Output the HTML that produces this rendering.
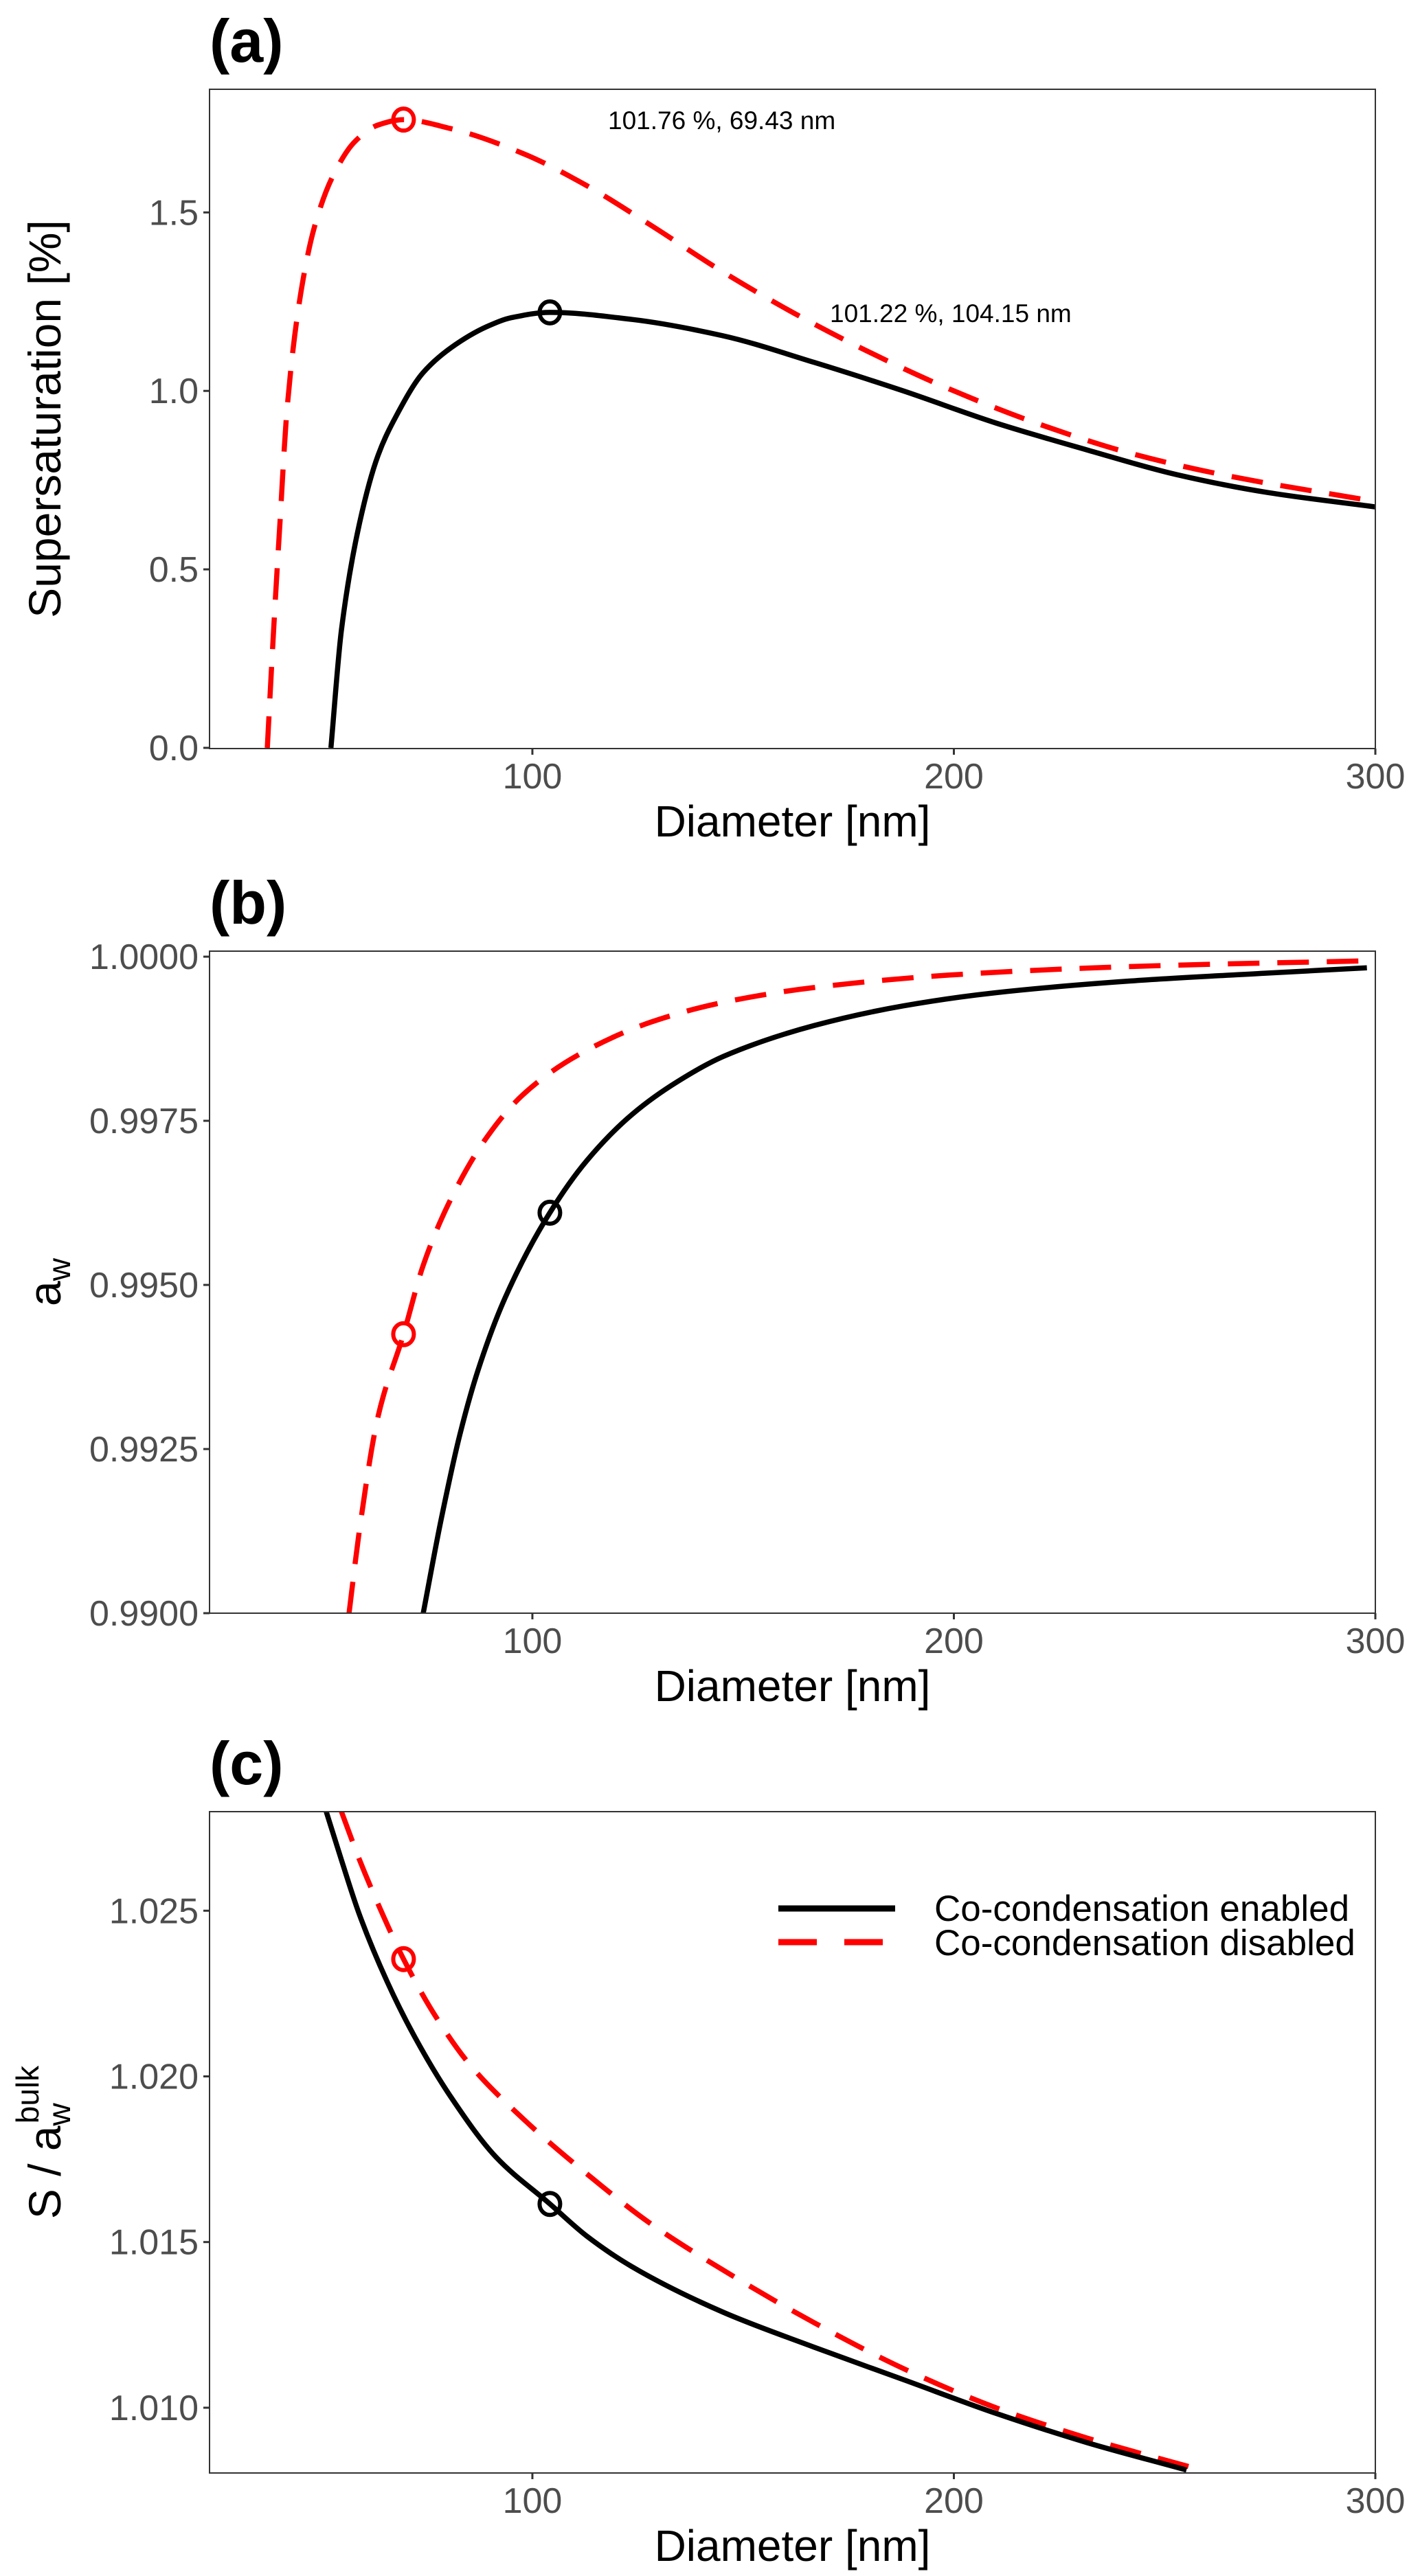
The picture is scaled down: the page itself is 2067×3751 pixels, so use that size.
<!DOCTYPE html>
<html><head><meta charset="utf-8"><style>
html,body{margin:0;padding:0;background:#fff;}
svg{display:block;}
text{font-family:"Liberation Sans",sans-serif;}
</style></head>
<body>
<svg id="fig" width="2067" height="3751" viewBox="0 0 2067 3751" xmlns="http://www.w3.org/2000/svg">
<rect width="2067" height="3751" fill="#fff"/>
</svg>
<script>
// ---- Data ----
const xTicks = [100, 200, 300];
// Panel (a) supersaturation
const aEnabledD = [52.2,54.7,59,63.4,67.7,74,80.6,89.2,95,104.15,123.7,145,166.8,188,210,231.5,253,274.6,300];
const aEnabledV = [0,0.33,0.63,0.82,0.93,1.05,1.12,1.18,1.205,1.22,1.2,1.155,1.08,1.0,0.91,0.835,0.765,0.715,0.675];
const aDisabledD = [37.1,38.6,40.1,41.8,45,48.3,52.6,58,63.4,69.43,80.6,97.8,112.9,128,145,162.5,179.7,199,220.7,242,263.8,300];
const aDisabledV = [0,0.33,0.63,0.95,1.27,1.46,1.60,1.70,1.745,1.76,1.735,1.665,1.575,1.465,1.335,1.215,1.11,1.005,0.905,0.825,0.765,0.69];
const aTicks = [0.0, 0.5, 1.0, 1.5];
const aTickLabels = ["0.0","0.5","1.0","1.5"];
// Panel (b) water activity
const bEnabledD = [74.1,78.4,82.8,87.1,93.5,104.15,113,123.7,134.5,145.3,166.8,188,209.8,242,274.6,298];
const bEnabledV = [0.99,0.99144,0.99272,0.9937,0.9948,0.9961,0.9969,0.9976,0.9981,0.99848,0.99895,0.99925,0.99945,0.99963,0.99975,0.99983];
const bDisabledD = [56.5,59,63.4,69.43,74.1,80.6,89.2,97.8,110.8,128,145,166.8,199,242,300];
const bDisabledV = [0.99,0.99128,0.993,0.99425,0.9953,0.9963,0.99725,0.9979,0.9985,0.999,0.9993,0.99953,0.99972,0.99985,0.99994];
const bTicks = [0.99, 0.9925, 0.995, 0.9975, 1.0];
const bTickLabels = ["0.9900","0.9925","0.9950","0.9975","1.0000"];
// Panel (c) S / aw_bulk
const cEnabledD = [51.1,54.7,59,65.5,72,80.6,91.4,104.15,113,123.7,145.3,166.8,188.4,210,231.5,255.2];
const cEnabledV = [1.02799,1.02653,1.02487,1.02287,1.02121,1.01939,1.01756,1.01615,1.01517,1.01425,1.01288,1.01183,1.01083,1.00983,1.00895,1.00812];
const cDisabledD = [54.7,59,63.4,69.43,76.7,85,97.8,112.9,128,145.3,166.8,188.4,210,231.5,259.5];
const cDisabledV = [1.02799,1.02653,1.0252,1.02354,1.02188,1.02038,1.01872,1.01706,1.01556,1.01415,1.01257,1.01116,1.01,1.00909,1.00809];
const cTicks = [1.010, 1.015, 1.020, 1.025];
const cTickLabels = ["1.010","1.015","1.020","1.025"];
// Critical points [diameter, value]
const aCritEnabled = [104.15, 1.22];
const aCritDisabled = [69.43, 1.76];
const bCritEnabled = [104.15, 0.9961];
const bCritDisabled = [69.43, 0.99425];
const cCritEnabled = [104.15, 1.01615];
const cCritDisabled = [69.43, 1.02354];

// ---- Drawing ----
const NS = "http://www.w3.org/2000/svg";
const svg = document.getElementById("fig");
const L = 305, R = 2002, XMIN = 23.4, XMAX = 300;
function xs(d){ return L + (d - XMIN) / (XMAX - XMIN) * (R - L); }
function mk(tag, attrs, parent){
  const e = document.createElementNS(NS, tag);
  for (const k in attrs) e.setAttribute(k, attrs[k]);
  (parent || svg).appendChild(e);
  return e;
}
// monotone cubic (Fritsch-Carlson) in x
function smoothPath(pts){
  const n = pts.length;
  const dx = [], m = [], t = [];
  for (let i = 0; i < n-1; i++){ dx[i] = pts[i+1][0]-pts[i][0]; m[i] = (pts[i+1][1]-pts[i][1])/dx[i]; }
  t[0] = m[0]; t[n-1] = m[n-2];
  for (let i = 1; i < n-1; i++){
    if (m[i-1]*m[i] <= 0) t[i] = 0;
    else { const w1 = 2*dx[i]+dx[i-1], w2 = dx[i]+2*dx[i-1]; t[i] = (w1+w2)/(w1/m[i-1]+w2/m[i]); }
  }
  let d = "M" + pts[0][0].toFixed(1) + "," + pts[0][1].toFixed(1);
  for (let i = 0; i < n-1; i++){
    const h = dx[i];
    d += " C" + (pts[i][0]+h/3).toFixed(1)+","+(pts[i][1]+t[i]*h/3).toFixed(1)+" "+
         (pts[i+1][0]-h/3).toFixed(1)+","+(pts[i+1][1]-t[i+1]*h/3).toFixed(1)+" "+
         pts[i+1][0].toFixed(1)+","+pts[i+1][1].toFixed(1);
  }
  return d;
}
function panel(cfg){
  const ys = v => cfg.B - (v - cfg.ymin) / (cfg.ymax - cfg.ymin) * (cfg.B - cfg.T);
  const g = mk("g", {});
  
  
  const clipId = "clip-" + cfg.name;
  const cp = mk("clipPath", {id: clipId}, g);
  mk("rect", {x: L, y: cfg.T, width: R-L, height: cfg.B-cfg.T}, cp);
  const lab = mk("text", {x: 305, y: cfg.T - 40, "font-size": 88, "font-weight": "bold", fill: "#000"}, g);
  lab.textContent = cfg.label;
  
  
  const lines = mk("g", {"clip-path": "url(#" + clipId + ")"}, g);
  const pe = cfg.enD.map((d,i)=>[xs(d), ys(cfg.enV[i])]);
  const pdis = cfg.disD.map((d,i)=>[xs(d), ys(cfg.disV[i])]);
  const l2 = mk("path", {d: smoothPath(pdis), fill: "none", stroke: "#ff0000", "stroke-width": 7.5, "stroke-dasharray": "46,26"}, lines);
  
  
  const l1 = mk("path", {d: smoothPath(pe), fill: "none", stroke: "#000", "stroke-width": 7.5}, lines);
  
  
  const c1 = mk("ellipse", {cx: xs(cfg.critEn[0]), cy: ys(cfg.critEn[1]), rx: 15, ry: 16, fill: "none", stroke: "#000", "stroke-width": 6}, g);
  
  
  const c2 = mk("ellipse", {cx: xs(cfg.critDis[0]), cy: ys(cfg.critDis[1]), rx: 15, ry: 16, fill: "none", stroke: "#ff0000", "stroke-width": 6}, g);
  
  
  const fr = mk("rect", {x: L, y: cfg.T, width: R-L, height: cfg.B-cfg.T, fill: "none", stroke: "#333", "stroke-width": 2}, g);
  
  
  xTicks.forEach(t=>{
    const x = xs(t);
    const tk = mk("line", {x1: x, x2: x, y1: cfg.B, y2: cfg.B + 9, stroke: "#333", "stroke-width": 3}, g);
    
    
    const tl = mk("text", {x: x, y: cfg.B + 58, "font-size": 52, fill: "#4d4d4d", "text-anchor": "middle"}, g);
    tl.textContent = String(t);
    
    
  });
  cfg.ticks.forEach((t,i)=>{
    const y = ys(t);
    const tk = mk("line", {x1: L - 9, x2: L, y1: y, y2: y, stroke: "#333", "stroke-width": 3}, g);
    
    
    const tl = mk("text", {x: 289, y: y + 18, "font-size": 52, fill: "#4d4d4d", "text-anchor": "end"}, g);
    tl.textContent = cfg.tickLabels[i];
    
    
  });
  const xt = mk("text", {x: (L+R)/2, y: cfg.B + 128, "font-size": 64, fill: "#000", "text-anchor": "middle"}, g);
  xt.textContent = "Diameter [nm]";
  
  
  const yc = (cfg.T + cfg.B)/2;
  const yt = mk("text", {x: 0, y: 0, transform: "translate(88," + yc + ") rotate(-90)", "font-size": 66, fill: "#000", "text-anchor": "middle"}, g);
  yt.innerHTML = cfg.ytitle;
  
  
  return {g, ys};
}

const pa = panel({name: "panel-a", label: "(a)", T: 130, B: 1090, ymin: -0.002, ymax: 1.845,
  enD: aEnabledD, enV: aEnabledV, disD: aDisabledD, disV: aDisabledV, critEn: aCritEnabled, critDis: aCritDisabled,
  ticks: aTicks, tickLabels: aTickLabels, ytitle: "Supersaturation [%]"});
const an1 = mk("text", {x: 885, y: 188, "font-size": 37, fill: "#000"}, pa.g);
an1.textContent = "101.76 %, 69.43 nm";


const an2 = mk("text", {x: 1208, y: 469, "font-size": 37, fill: "#000"}, pa.g);
an2.textContent = "101.22 %, 104.15 nm";



panel({name: "panel-b", label: "(b)", T: 1385, B: 2349, ymin: 0.99, ymax: 1.000084,
  enD: bEnabledD, enV: bEnabledV, disD: bDisabledD, disV: bDisabledV, critEn: bCritEnabled, critDis: bCritDisabled,
  ticks: bTicks, tickLabels: bTickLabels, ytitle: 'a<tspan font-size="46" dy="14">w</tspan>'});

const pc = panel({name: "panel-c", label: "(c)", T: 2638, B: 3601, ymin: 1.00803, ymax: 1.02799,
  enD: cEnabledD, enV: cEnabledV, disD: cDisabledD, disV: cDisabledV, critEn: cCritEnabled, critDis: cCritDisabled,
  ticks: cTicks, tickLabels: cTickLabels, ytitle: 'S / a<tspan font-size="46" dy="14">w</tspan><tspan font-size="46" dx="-30" dy="-46">bulk</tspan>'});
const lg = mk("g", {}, pc.g);


const le1 = mk("line", {x1: 1133, x2: 1303, y1: 2779, y2: 2779, stroke: "#000", "stroke-width": 9}, lg);


const le2 = mk("line", {x1: 1133, x2: 1303, y1: 2828, y2: 2828, stroke: "#ff0000", "stroke-width": 9, "stroke-dasharray": "56,40"}, lg);


const lt1 = mk("text", {x: 1360, y: 2797, "font-size": 53, fill: "#000"}, lg);
lt1.textContent = "Co-condensation enabled";


const lt2 = mk("text", {x: 1360, y: 2847, "font-size": 53, fill: "#000"}, lg);
lt2.textContent = "Co-condensation disabled";


</script>
</body></html>
